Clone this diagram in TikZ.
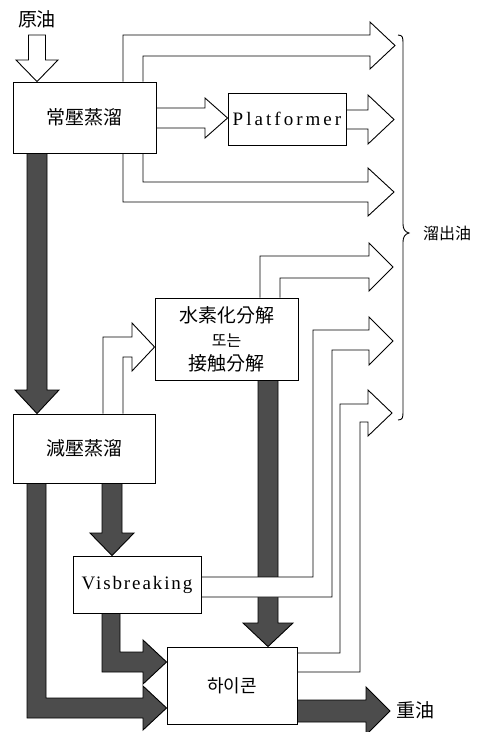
\documentclass[tikz,border=0pt]{standalone}
\usepackage{fontspec}
\setmainfont{Liberation Serif}
\newfontfamily\cjk{Noto Sans CJK KR}
\newfontfamily\latA[LetterSpace=16]{Liberation Serif}
\newfontfamily\latB[LetterSpace=10]{Liberation Serif}
\usetikzlibrary{backgrounds}
\begin{document}
\begin{tikzpicture}[x=1pt,y=-1pt,
  box/.style={draw, fill=white, line width=0.9pt, inner sep=0pt},
  hollow/.style={draw, fill=white, line width=0.9pt, line join=miter},
  dark/.style={draw, fill=black!70, line width=0.9pt, line join=miter},
  cj/.style={font=\cjk\fontsize{19}{24}\selectfont},
  lbl/.style={inner sep=0pt}
]
\useasboundingbox (0,0) rectangle (495,732);

% boxes
\node[box, cj, minimum width=143pt, minimum height=71pt] (A) at (84.5,117.5) {常壓蒸溜};
\node[box, font=\latA\fontsize{19}{19}\selectfont, minimum width=118pt, minimum height=52pt] (P) at (287,119) {Platformer};
\node[box, cj, align=center, minimum width=143pt, minimum height=82pt] (H) at (226.5,339)
  {水素化分解\\[0pt]{\fontsize{16}{16}\selectfont 또는}\\[0pt]接触分解};
\node[box, cj, minimum width=142pt, minimum height=69pt] (V) at (84,448.5) {減壓蒸溜};
\node[box, font=\latB\fontsize{19}{19}\selectfont, minimum width=128pt, minimum height=57pt] (B) at (137,584.5) {Visbreaking};
\node[box, font=\cjk\fontsize{18}{18}\selectfont, minimum width=130pt, minimum height=77pt] (K) at (232,685.5) {하이콘};

% labels
\node[lbl, font=\cjk\fontsize{19}{19}\selectfont] (oil) at (37,19) {原油};
\node[lbl, font=\cjk\fontsize{16}{16}\selectfont] (dist) at (447,233) {溜出油};
\node[lbl, font=\cjk\fontsize{19}{19}\selectfont] (heavy) at (415,710) {重油};
\coordinate (heavytip) at (390,711);
\coordinate (oiltop) at (37,35);

\begin{scope}[on background layer]
% dark arrows
\draw[dark] (A.south -| 27,0) -- (27,390) -- (15,390) -- (V.north -| 37,0) -- (59,390) -- (47,390) -- (A.south -| 47,0);
\draw[dark] (H.south -| 258,0) -- (258,623) -- (243,623) -- (K.north -| 268,0) -- (293,623) -- (278,623) -- (H.south -| 278,0);
\draw[dark] (V.south -| 102,0) -- (102,533) -- (90,533) -- (B.north -| 112,0) -- (134,533) -- (122,533) -- (V.south -| 122,0);
\draw[dark] (B.south -| 102,0) -- (102,672) -- (143,672) -- (143,684) -- (K.west |- 0,662) -- (143,640) -- (143,652) -- (120,652) -- (B.south -| 120,0);
\draw[dark] (V.south -| 27,0) -- (27,718) -- (143,718) -- (143,730) -- (K.west |- 0,708) -- (143,686) -- (143,698) -- (46,698) -- (V.south -| 46,0);
\draw[dark] (K.east |- 0,700) -- (366,700) -- (366,687) -- (heavytip) -- (366,735) -- (366,722) -- (K.east |- 0,722);

% hollow arrows
\draw[hollow] (oiltop -| 28.5,0) -- (28.5,60) -- (16,60) -- (A.north -| 37,0) -- (58,60) -- (45.5,60) -- (oiltop -| 45.5,0) -- cycle;
\draw[hollow] (A.north -| 123,0) -- (123,35) -- (370,35) -- (370,22) -- (395,45.5) -- (370,69) -- (370,56) -- (143,56) -- (A.north -| 143,0);
\draw[hollow] (A.east |- 0,108) -- (205,108) -- (205,98) -- (P.west |- 0,118) -- (205,138) -- (205,128) -- (A.east |- 0,128);
\draw[hollow] (P.east |- 0,110) -- (368,110) -- (368,95) -- (394,119.5) -- (368,144) -- (368,129) -- (P.east |- 0,129);
\draw[hollow] (A.south -| 143,0) -- (143,182) -- (368,182) -- (368,168) -- (394,192) -- (368,216) -- (368,202) -- (123,202) -- (A.south -| 123,0);
\draw[hollow] (V.north -| 103,0) -- (103,337) -- (132,337) -- (132,323) -- (H.west |- 0,347) -- (132,371) -- (132,357) -- (123,357) -- (V.north -| 123,0);
\draw[hollow] (H.north -| 260,0) -- (260,256) -- (369,256) -- (369,243) -- (393,267) -- (369,291) -- (369,278) -- (280,278) -- (H.north -| 280,0);
\draw[hollow] (B.east |- 0,577) -- (313,577) -- (313,330) -- (369,330) -- (369,317) -- (393,341) -- (369,365) -- (369,350) -- (332,350) -- (332,597) -- (B.east |- 0,597);
\draw[hollow] (K.east |- 0,653) -- (340,653) -- (340,404) -- (368,404) -- (368,390) -- (392,413) -- (368,436) -- (368,422) -- (360,422) -- (360,672) -- (K.east |- 0,672);
\end{scope}

% brace
\draw[line width=0.9pt] (398,35) .. controls (403,35) and (403,38) .. (403,44) -- (403,224)
  .. controls (403,229) and (405,232) .. (409,233) .. controls (405,234) and (403,237) .. (403,242)
  -- (403,411) .. controls (403,417) and (403,420) .. (398,420);
\end{tikzpicture}
\end{document}
